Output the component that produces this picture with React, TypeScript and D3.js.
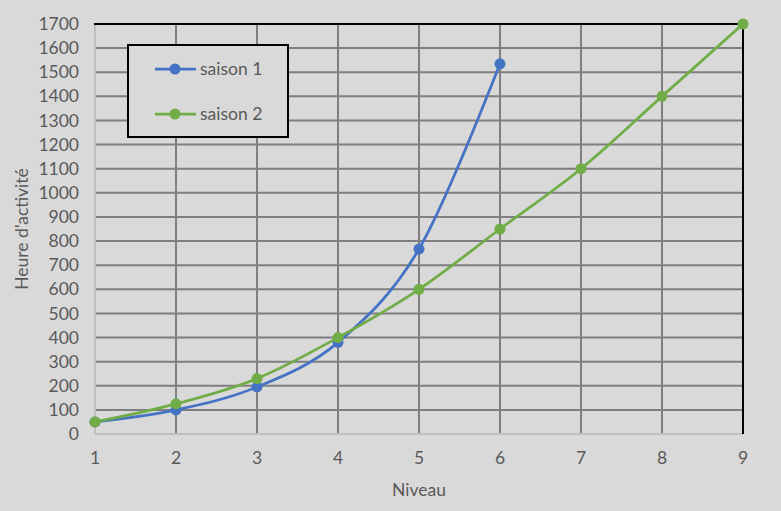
import { useRef, useEffect } from "react";
import * as d3 from "d3";

const levels = [1, 2, 3, 4, 5, 6, 7, 8, 9];
const season1 = [50, 100, 195, 380, 767, 1535];
const season2 = [50, 125, 230, 400, 600, 850, 1100, 1400, 1700];
const yTicks = d3.range(0, 1800, 100);
const seriesNames = ["saison 1", "saison 2"];

export default function App() {
  const chartRef = useRef<HTMLDivElement>(null);

  useEffect(() => {
    if (!chartRef.current) return;
    d3.select(chartRef.current).selectAll("*").remove();

    const width = 781;
    const height = 511;
    const margin = { top: 24, right: 38, bottom: 77, left: 95 };
    const font = "Lato, 'Noto Sans', sans-serif";
    const fontSize = "17.5px";
    const textColor = "#595959";
    const gridColor = "#7f7f7f";

    const svg = d3
      .select(chartRef.current)
      .append("svg")
      .attr("width", width)
      .attr("height", height)
      .style("display", "block");

    svg.append("rect").attr("width", width).attr("height", height).attr("fill", "#d9d9d9");

    const x = d3.scaleLinear().domain([1, 9]).range([margin.left, width - margin.right]);
    const y = d3.scaleLinear().domain([0, 1700]).range([height - margin.bottom, margin.top]);

    // grid
    svg
      .append("g")
      .selectAll("line")
      .data(yTicks.filter((d) => d > 0 && d < 1700))
      .enter()
      .append("line")
      .attr("x1", x(1))
      .attr("x2", x(9))
      .attr("y1", (d) => y(d))
      .attr("y2", (d) => y(d))
      .attr("stroke", gridColor)
      .attr("stroke-width", 2);

    svg
      .append("g")
      .selectAll("line")
      .data(levels.filter((d) => d > 1 && d < 9))
      .enter()
      .append("line")
      .attr("x1", (d) => x(d))
      .attr("x2", (d) => x(d))
      .attr("y1", y(0))
      .attr("y2", y(1700))
      .attr("stroke", gridColor)
      .attr("stroke-width", 2);

    // axis lines
    svg.append("line").attr("x1", x(1)).attr("x2", x(9)).attr("y1", y(0)).attr("y2", y(0)).attr("stroke", "#bfbfbf").attr("stroke-width", 2);
    svg.append("line").attr("x1", x(1)).attr("x2", x(1)).attr("y1", y(0)).attr("y2", y(1700)).attr("stroke", "#bfbfbf").attr("stroke-width", 2);
    // plot border top/right
    svg.append("line").attr("x1", x(1) - 1).attr("x2", x(9) + 1).attr("y1", y(1700)).attr("y2", y(1700)).attr("stroke", "#000").attr("stroke-width", 2);
    svg.append("line").attr("x1", x(9)).attr("x2", x(9)).attr("y1", y(1700)).attr("y2", y(0)).attr("stroke", "#000").attr("stroke-width", 2);

    // tick labels
    svg
      .append("g")
      .selectAll("text")
      .data(yTicks)
      .enter()
      .append("text")
      .attr("x", 79)
      .attr("y", (d) => y(d))
      .attr("dy", "0.35em")
      .attr("text-anchor", "end")
      .attr("font-family", font)
      .attr("font-size", fontSize)
      .attr("fill", textColor)
      .text((d) => d);

    svg
      .append("g")
      .selectAll("text")
      .data(levels)
      .enter()
      .append("text")
      .attr("x", (d) => x(d))
      .attr("y", y(0) + 30)
      .attr("text-anchor", "middle")
      .attr("font-family", font)
      .attr("font-size", fontSize)
      .attr("fill", textColor)
      .text((d) => d);

    // axis titles
    svg
      .append("text")
      .attr("x", x(5))
      .attr("y", 496)
      .attr("text-anchor", "middle")
      .attr("font-family", font)
      .attr("font-size", fontSize)
      .attr("fill", textColor)
      .text("Niveau");

    svg
      .append("text")
      .attr("transform", `translate(28, ${(y(0) + y(1700)) / 2}) rotate(-90)`)
      .attr("text-anchor", "middle")
      .attr("font-family", font)
      .attr("font-size", fontSize)
      .attr("fill", textColor)
      .text("Heure d'activité");

    const line = d3
      .line<number>()
      .x((_, i) => x(levels[i]))
      .y((d) => y(d))
      .curve(d3.curveCatmullRom.alpha(0));

    const series = [
      { name: seriesNames[0], values: season1, color: "#4472c4" },
      { name: seriesNames[1], values: season2, color: "#70ad47" },
    ];

    series.forEach((s) => {
      svg
        .append("path")
        .attr("d", line(s.values))
        .attr("fill", "none")
        .attr("stroke", s.color)
        .attr("stroke-width", 2.75);
      svg
        .append("g")
        .selectAll("circle")
        .data(s.values)
        .enter()
        .append("circle")
        .attr("cx", (_, i) => x(levels[i]))
        .attr("cy", (d) => y(d))
        .attr("r", 5.5)
        .attr("fill", s.color);
    });

    // legend
    const legend = svg.append("g").attr("transform", "translate(128, 45)");
    legend
      .append("rect")
      .attr("width", 160)
      .attr("height", 92)
      .attr("fill", "#d9d9d9")
      .attr("stroke", "#000")
      .attr("stroke-width", 2);

    series.forEach((s, i) => {
      const ly = 24 + i * 45;
      legend.append("line").attr("x1", 27).attr("x2", 68).attr("y1", ly).attr("y2", ly).attr("stroke", s.color).attr("stroke-width", 2.75);
      legend.append("circle").attr("cx", 47).attr("cy", ly).attr("r", 5.5).attr("fill", s.color);
      legend
        .append("text")
        .attr("x", 72)
        .attr("y", ly)
        .attr("dy", "0.35em")
        .attr("font-family", font)
        .attr("font-size", fontSize)
        .attr("fill", textColor)
        .text(s.name);
    });
  }, []);

  return (
    <div style={{ position: "absolute", left: 0, top: 0 }}>
      <div ref={chartRef}></div>
    </div>
  );
}
